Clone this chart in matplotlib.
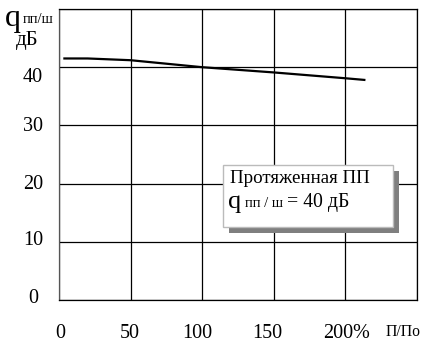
import matplotlib
matplotlib.use("Agg")
import matplotlib.pyplot as plt
from matplotlib.patches import Rectangle
from matplotlib.transforms import ScaledTranslation

plt.rcParams['font.family'] = ['Liberation Serif', 'DejaVu Serif']

# Relative bandwidth, % and signal-to-noise ratio, dB
bandwidth = [3, 20, 50, 100, 150, 200, 214]
snr_db = [41.5, 41.5, 41.2, 40.0, 39.1, 38.1, 37.8]

x_ticks = [0, 50, 100, 150, 200]
x_tick_labels = ['0', '50', '100', '150', '200%']
y_ticks = [0, 10, 20, 30, 40]
y_tick_labels = ['0', '10', '20', '30', '40']

W, H = 422, 343
fig = plt.figure(figsize=(W / 100, H / 100), dpi=100)
ax = fig.add_axes([59 / W, 43 / H, 358 / W, 291 / H])

ax.plot(bandwidth, snr_db, color='black', lw=1.6, solid_capstyle='butt')

ax.set_xlim(0, 250)
ax.set_ylim(0, 50)
ax.grid(True, color='black', lw=0.9)
for s in ax.spines.values():
    s.set_color('black')
    s.set_linewidth(0.9)
ax.spines['left'].set_color('#555555')
ax.tick_params(length=0, labelsize=14.5)

ax.set_xticks(x_ticks + [250])
ax.set_xticklabels(x_tick_labels + [''])
ax.set_yticks(y_ticks + [50])
ax.set_yticklabels(y_tick_labels + [''])
ax.tick_params(axis='x', pad=17)
ax.tick_params(axis='y', pad=0)

# nudge individual tick labels
x_shift = [1, -1, -5, -7, 1]
for lab, dx in zip(ax.get_xticklabels(), x_shift):
    lab.set_transform(lab.get_transform() + ScaledTranslation(dx / 100, 0, fig.dpi_scale_trans))
y_shift = [4, 4, 2, 1, -8]
for lab, dy in zip(ax.get_yticklabels(), y_shift):
    lab.set_horizontalalignment('center')
    lab.set_transform(lab.get_transform() + ScaledTranslation(-26 / 100, dy / 100, fig.dpi_scale_trans))


def ftext(x, y, s, **kw):
    fig.text(x / W, 1 - y / H, s, **kw)


# axis captions
ftext(5, 26, 'q', fontsize=23, va='baseline')
ftext(23, 23, 'пп/ш', fontsize=10.5, va='baseline')
ftext(16, 45, 'дБ', fontsize=15, va='baseline')
ftext(386, 336, 'П/По', fontsize=11.3, va='baseline')

# legend box with drop shadow
bx0, bx1, by0, by1 = 223, 393, 165, 227
sh = 6
fig.patches.append(Rectangle(((bx0 + sh) / W, 1 - (by1 + sh) / H), (bx1 - bx0) / W, (by1 - by0) / H,
                             transform=fig.transFigure, facecolor='#7f7f7f', edgecolor='none', zorder=5))
fig.patches.append(Rectangle((bx0 / W, 1 - by1 / H), (bx1 - bx0) / W, (by1 - by0) / H,
                             transform=fig.transFigure, facecolor='white', edgecolor='#bbbbbb',
                             lw=1.0, zorder=6))
ftext(230, 183, 'Протяженная ПП', fontsize=13.7, va='baseline', zorder=7)
ftext(228, 208, 'q', fontsize=19, va='baseline', zorder=7)
ftext(245, 207, 'пп / ш', fontsize=10.5, va='baseline', zorder=7)
ftext(287, 207, '= 40 дБ', fontsize=14.2, va='baseline', zorder=7)

fig.savefig('out.png', dpi=100)
